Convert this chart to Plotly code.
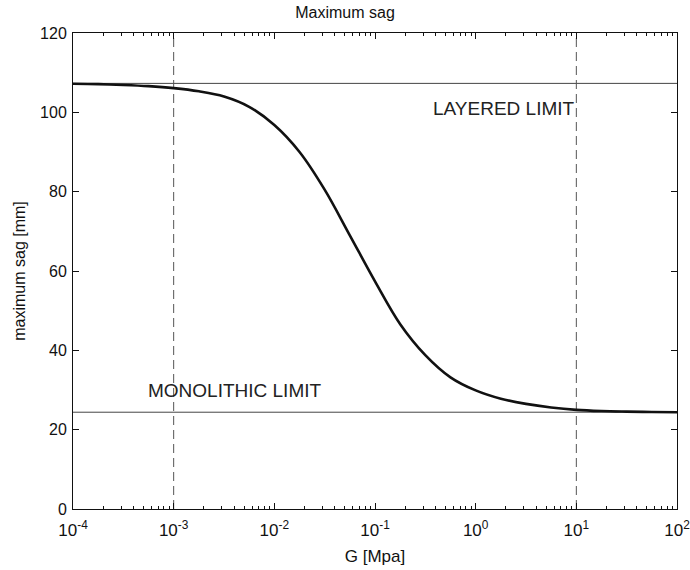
import plotly.graph_objects as go

# Shear modulus of the interlayer [MPa] and resulting maximum sag [mm]
G_mpa = [1.0e-4, 1.78e-4, 3.16e-4, 5.62e-4, 1.0e-3, 1.78e-3, 3.16e-3, 5.62e-3,
         1.0e-2, 1.78e-2, 3.16e-2, 5.62e-2, 0.1, 0.178, 0.316, 0.562,
         1.0, 1.78, 3.16, 5.62, 10.0, 17.8, 31.6, 56.2, 100.0]
sag_mm = [107.2, 107.1, 106.9, 106.6, 106.1, 105.3, 104.0, 101.4,
          96.8, 90.0, 80.5, 69.0, 57.4, 46.6, 38.8, 33.2,
          29.9, 27.8, 26.5, 25.6, 25.0, 24.7, 24.55, 24.45, 24.4]

layered_limit = 107.3
monolithic_limit = 24.4
G_marks = [1e-3, 1e1]
x_ticks = [1e-4, 1e-3, 1e-2, 1e-1, 1e0, 1e1, 1e2]
x_tick_text = ["10<sup>-4</sup>", "10<sup>-3</sup>", "10<sup>-2</sup>", "10<sup>-1</sup>",
               "10<sup>0</sup>", "10<sup>1</sup>", "10<sup>2</sup>"]
y_ticks = [0, 20, 40, 60, 80, 100, 120]

FONT = "Liberation Sans, Arial, sans-serif"

fig = go.Figure()

# limit lines
for yv in (layered_limit, monolithic_limit):
    fig.add_trace(go.Scatter(x=[x_ticks[0], x_ticks[-1]], y=[yv, yv], mode="lines",
                             line=dict(color="#444444", width=1),
                             hoverinfo="skip", showlegend=False))

# dashed reference verticals
for gv in G_marks:
    fig.add_trace(go.Scatter(x=[gv, gv], y=[y_ticks[0], y_ticks[-1]], mode="lines",
                             line=dict(color="#555555", width=1, dash="9px,5px"),
                             hoverinfo="skip", showlegend=False))

# sag curve
fig.add_trace(go.Scatter(x=G_mpa, y=sag_mm, mode="lines",
                         line=dict(color="#111111", width=2.6, shape="spline", smoothing=1.0),
                         showlegend=False))

fig.add_annotation(x=0.28, y=101.0, xref="x", yref="y", text="LAYERED LIMIT",
                   showarrow=False, font=dict(family=FONT, size=19, color="#222222"))
fig.add_annotation(x=-2.39, y=30.0, xref="x", yref="y", text="MONOLITHIC LIMIT",
                   showarrow=False, font=dict(family=FONT, size=19, color="#222222"))

fig.update_layout(
    width=690, height=570,
    margin=dict(l=73, r=13, t=33, b=61, autoexpand=False),
    paper_bgcolor="white", plot_bgcolor="white",
    font=dict(family=FONT, size=16, color="#111111"),
    title=dict(text="Maximum sag", x=0.5, xanchor="center", y=0.979, yanchor="middle",
               font=dict(family=FONT, size=16)),
)

fig.update_xaxes(
    type="log", range=[-4, 2], tickvals=x_ticks, ticktext=x_tick_text,
    automargin=False, ticklabeloverflow="allow",
    showgrid=False, zeroline=False,
    showline=True, linecolor="#111111", linewidth=1, mirror="ticks",
    ticks="inside", ticklen=6, tickcolor="#111111",
    minor=dict(ticks="inside", ticklen=3, dtick="D1", tickcolor="#111111", showgrid=False),
    tickfont=dict(family=FONT, size=17),
    ticklabelstandoff=6,
    title=dict(text="G [Mpa]", font=dict(family=FONT, size=17), standoff=10),
)
fig.update_yaxes(
    range=[0, 120], tickvals=y_ticks,
    automargin=False,
    showgrid=False, zeroline=False,
    showline=True, linecolor="#111111", linewidth=1, mirror="ticks",
    ticks="inside", ticklen=6, tickcolor="#111111",
    tickfont=dict(family=FONT, size=16),
    ticklabelstandoff=2,
    title=dict(text="maximum sag [mm]", font=dict(family=FONT, size=16), standoff=10),
)

fig.write_html("out.html")
